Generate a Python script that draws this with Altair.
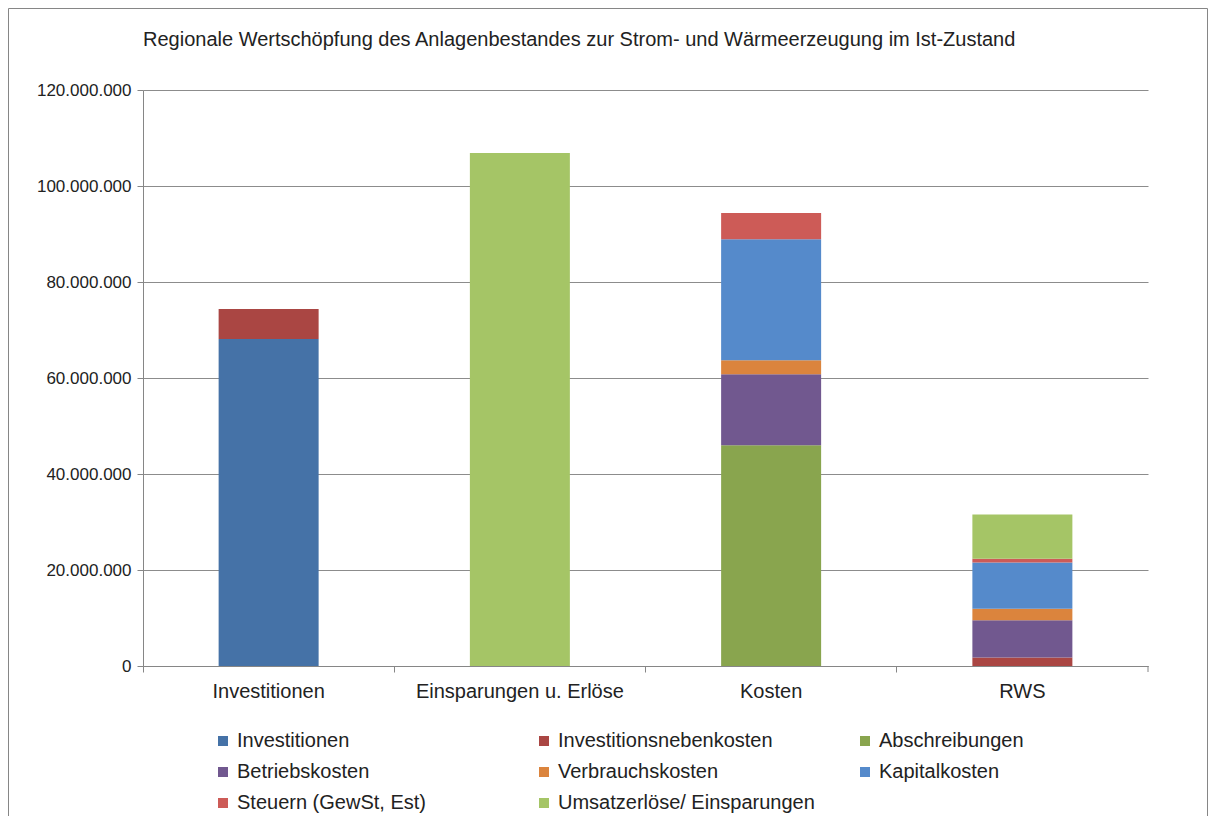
import altair as alt
import pandas as pd

categories = ["Investitionen", "Einsparungen u. Erlöse", "Kosten", "RWS"]
series = ["Investitionen", "Investitionsnebenkosten", "Abschreibungen",
          "Betriebskosten", "Verbrauchskosten", "Kapitalkosten",
          "Steuern (GewSt, Est)", "Umsatzerlöse/ Einsparungen"]
colors = ["#4572A7", "#AA4643", "#89A54E", "#71588F",
          "#DB843D", "#558ACB", "#CD5B57", "#A5C566"]
title_text = "Regionale Wertschöpfung des Anlagenbestandes zur Strom- und Wärmeerzeugung im Ist-Zustand"

# values per series, one entry per category
v_investitionen = [68_100_000, 0, 0, 0]
v_invnebenkosten = [6_300_000, 0, 0, 1_750_000]
v_abschreibungen = [0, 0, 46_000_000, 0]
v_betriebskosten = [0, 0, 14_800_000, 7_800_000]
v_verbrauchskosten = [0, 0, 2_900_000, 2_400_000]
v_kapitalkosten = [0, 0, 25_200_000, 9_600_000]
v_steuern = [0, 0, 5_500_000, 800_000]
v_umsatz = [0, 106_900_000, 0, 9_200_000]

all_values = [v_investitionen, v_invnebenkosten, v_abschreibungen, v_betriebskosten,
              v_verbrauchskosten, v_kapitalkosten, v_steuern, v_umsatz]

rows = []
for si, (s, vals) in enumerate(zip(series, all_values)):
    for c, v in zip(categories, vals):
        rows.append({"Kategorie": c, "Serie": s, "Wert": v, "Ordnung": si})
df = pd.DataFrame(rows)

# legend is laid out column-major; order so that it reads row-wise like the original
legend_order = [series[i] for i in (0, 3, 6, 1, 4, 7, 2, 5)]
legend_colors = [colors[series.index(s)] for s in legend_order]

W, H = 1005, 576
FONT = "Liberation Sans"
GRAY = "#868686"

bars = alt.Chart(df).mark_bar(size=100).encode(
    x=alt.X("Kategorie:N", sort=categories, title=None,
            scale=alt.Scale(paddingInner=0, paddingOuter=0),
            axis=alt.Axis(labelAngle=0, bandPosition=0, labelFontSize=20,
                          labelColor="#222222", labelPadding=9, tickSize=6,
                          tickColor=GRAY, domainColor=GRAY, labelLimit=400,
                          labelFont=FONT, grid=False)),
    y=alt.Y("Wert:Q", stack="zero", title=None,
            scale=alt.Scale(domain=[0, 120_000_000], nice=False),
            axis=alt.Axis(values=[0, 20_000_000, 40_000_000, 60_000_000,
                                  80_000_000, 100_000_000, 120_000_000],
                          format=",.0f", labelFontSize=17, labelColor="#222222",
                          labelFont=FONT, tickSize=6, tickColor=GRAY,
                          domainColor=GRAY, gridColor="#8C8C8C",
                          labelPadding=6)),
    color=alt.Color("Serie:N",
                    scale=alt.Scale(domain=legend_order, range=legend_colors),
                    legend=alt.Legend(title=None, orient="none", legendX=70, legendY=641,
                                      columns=3, gridAlign="all", columnPadding=40,
                                      rowPadding=11, symbolType="square", symbolSize=100,
                                      symbolStrokeWidth=0, labelFontSize=20,
                                      labelFont=FONT, labelColor="#222222",
                                      labelOffset=4, labelLimit=400)),
    order=alt.Order("Ordnung:Q", sort="ascending"),
)

end_tick = alt.Chart(pd.DataFrame({"a": [0]})).mark_rule(color=GRAY).encode(
    x=alt.value(W), y=alt.value(H), y2=alt.value(H + 6))

border = alt.Chart(pd.DataFrame({"a": [0]})).mark_rect(
    fill=None, stroke=GRAY, strokeWidth=1).encode(
    x=alt.value(-134.5), x2=alt.value(1064.5), y=alt.value(-81.5), y2=alt.value(800))

title = alt.Chart(pd.DataFrame({"t": [title_text]})).mark_text(
    align="left", baseline="middle", fontSize=20, font=FONT, color="#222222").encode(
    text="t:N", x=alt.value(0), y=alt.value(-50))

chart = alt.layer(border, bars, end_tick, title).properties(
    width=W, height=H,
    autosize=alt.AutoSizeParams(type="none"),
    padding={"left": 135, "top": 82, "right": 60, "bottom": 150},
).configure(
    locale={"number": {"decimal": ",", "thousands": ".", "grouping": [3],
                       "currency": ["", " €"]}}
).configure_view(stroke=None)

chart.save("out.html", embed_options={"renderer": "svg", "actions": False})
